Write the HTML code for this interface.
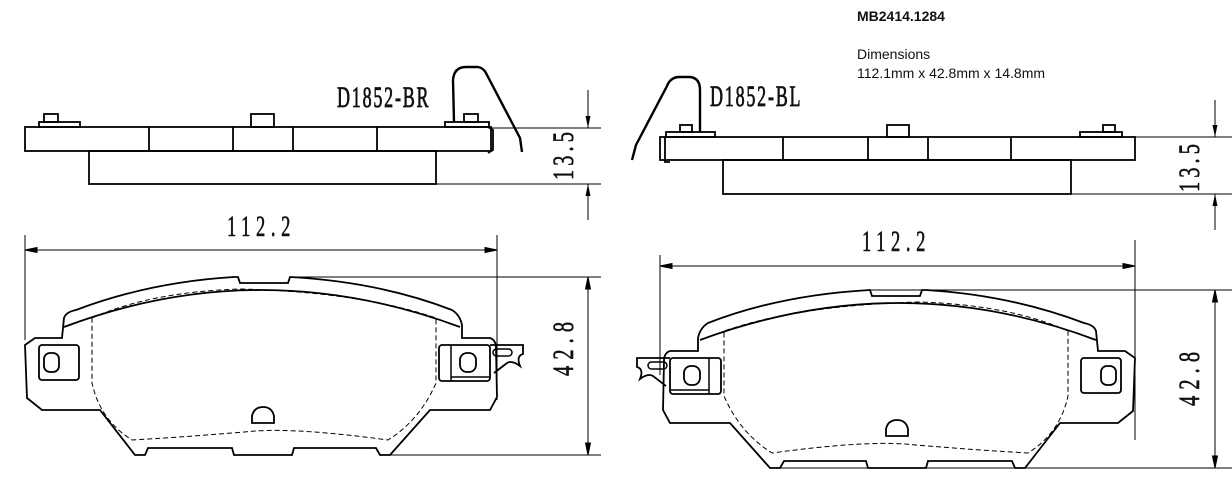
<!DOCTYPE html>
<html><head><meta charset="utf-8"><style>
html,body{margin:0;padding:0;background:#fff;}
svg{display:block;}
.t{font-family:"Liberation Sans",sans-serif;font-size:14px;fill:#111;}
.d{font-family:"Liberation Serif",serif;font-size:30px;fill:#111;stroke:#111;stroke-width:0.6;}
.l{font-family:"Liberation Serif",serif;font-size:30px;fill:#111;stroke:#111;stroke-width:0.8;}
</style></head><body>
<svg width="1232" height="481" viewBox="0 0 1232 481" xmlns="http://www.w3.org/2000/svg">
<defs>
<marker id="a" viewBox="0 0 12 6" refX="12" refY="3" markerWidth="12" markerHeight="6" markerUnits="userSpaceOnUse" orient="auto"><path d="M0,0.5 L12,3 L0,5.5 Z" fill="#000"/></marker>
<g id="pad" fill="none" stroke="#000">
<path stroke-width="1.8" d="M25,345 L35,338 L62,338 L64,318 Q66,312 76,310 Q150,282 234,277 L238,277 L240,283 L288,283 L290,277 Q380,282 452,310 Q460,315 462,325 L462,338 L490,338 Q496,340 496,348 L497,397 L490,410 L430,410 L390,455 L380,455 L376,448 L294,448 L292,455 L234,455 L232,448 L148,448 L145,455 L135,455 L100,410 L42,410 L27,398 Z"/>
<path stroke-width="1.8" d="M64,327 Q260,253 460,327"/>
<path stroke-width="1" stroke-dasharray="5,3" d="M92,318 Q150,292 240,289 Q360,292 436,318 L436,383 Q420,420 388,440 Q300,428 255,431 Q200,436 132,440 Q100,420 92,383 Z"/>
<rect x="39" y="345" width="40" height="35" rx="3" stroke-width="1.8"/>
<rect x="44" y="353" width="15" height="19" rx="6" stroke-width="1.8"/>
<rect x="439" y="345" width="51" height="36" rx="3" stroke-width="1.8"/>
<line x1="451" y1="345" x2="451" y2="381" stroke-width="1.5"/>
<rect x="460" y="353" width="16" height="19" rx="7" stroke-width="1.8"/>
<path stroke-width="1.8" d="M490,345 L523,345 L523,354 Q516,356 520,366 Q512,360 507,363 L494,373"/>
<line x1="451" y1="377" x2="490" y2="377" stroke-width="1.5"/>
<rect x="493" y="349" width="19" height="7" rx="3.5" stroke-width="1.5"/>
<path stroke-width="1.8" d="M252,423 L252,416 Q254,407 263,407 Q272,407 274,416 L274,423 Z"/>
</g>
</defs>

<text x="857" y="21" class="t" font-weight="600">MB2414.1284</text>
<text x="857" y="59" class="t">Dimensions</text>
<text x="857" y="78" class="t">112.1mm x 42.8mm x 14.8mm</text>

<!-- LEFT SIDE VIEW -->
<g fill="none" stroke="#000" stroke-width="1.8">
<rect x="25" y="127" width="466" height="24"/>
<line x1="149" y1="127" x2="149" y2="151"/><line x1="233" y1="127" x2="233" y2="151"/>
<line x1="293" y1="127" x2="293" y2="151"/><line x1="377" y1="127" x2="377" y2="151"/>
<rect x="89" y="151" width="347" height="33"/>
<rect x="39" y="122" width="41" height="5"/><rect x="44" y="114" width="14" height="8"/>
<rect x="251" y="114" width="23" height="13"/>
<rect x="445" y="122" width="44" height="5"/><rect x="464" y="114" width="14" height="8"/>
<path d="M488,127 L493,130 L493,150 L488,153"/>
<path d="M454,122 L453,80 Q454,67 466,67 L478,67 Q484,68 487,75 L520,138 L522,152" stroke-width="2.4"/>
</g>
<text class="l" transform="translate(337,107) scale(0.6,1)" style="letter-spacing:3px">D1852-BR</text>
<g stroke="#000" stroke-width="1" fill="none">
<line x1="491" y1="128" x2="601" y2="128"/><line x1="436" y1="184" x2="601" y2="184"/>
<line x1="588" y1="90" x2="588" y2="128" marker-end="url(#a)"/>
<line x1="588" y1="220" x2="588" y2="184" marker-end="url(#a)"/>
</g>
<text class="d" transform="translate(573,180) rotate(-90) scale(0.68,1)" style="letter-spacing:6px">13.5</text>

<!-- LEFT PLAN VIEW -->
<use href="#pad"/>
<g stroke="#000" stroke-width="1" fill="none">
<line x1="25" y1="235" x2="25" y2="340"/><line x1="497" y1="235" x2="497" y2="400"/>
<line x1="25" y1="250" x2="497" y2="250"/>
<path d="M25,250 l12,-2.5 v5 Z M497,250 l-12,-2.5 v5 Z" fill="#000"/>
<line x1="290" y1="277" x2="601" y2="277"/><line x1="390" y1="455" x2="601" y2="455"/>
<line x1="588" y1="277" x2="588" y2="455"/>
<path d="M588,277 l-2.5,12 h5 Z M588,455 l-2.5,-12 h5 Z" fill="#000"/>
</g>
<text class="d" transform="translate(227,236) scale(0.62,1)" style="letter-spacing:9px">112.2</text>
<text class="d" transform="translate(573,376) rotate(-90) scale(0.68,1)" style="letter-spacing:9px">42.8</text>

<!-- RIGHT SIDE VIEW -->
<g fill="none" stroke="#000" stroke-width="1.8">
<rect x="660" y="137" width="475" height="23"/>
<line x1="783" y1="137" x2="783" y2="160"/><line x1="868" y1="137" x2="868" y2="160"/>
<line x1="928" y1="137" x2="928" y2="160"/><line x1="1011" y1="137" x2="1011" y2="160"/>
<rect x="723" y="160" width="348" height="34"/>
<rect x="666" y="132" width="49" height="5"/><rect x="680" y="125" width="12" height="7"/>
<rect x="887" y="125" width="22" height="12"/>
<rect x="1080" y="132" width="42" height="5"/><rect x="1103" y="125" width="12" height="7"/>
<path d="M665,137 L665,162 L670,162"/>
<path d="M700,132 L700,90 Q700,78 690,77 L678,77 Q670,78 667,86 L636,145 L632,160" stroke-width="2.4"/>
</g>
<text class="l" transform="translate(710,106) scale(0.6,1)" style="letter-spacing:3px">D1852-BL</text>
<g stroke="#000" stroke-width="1" fill="none">
<line x1="1135" y1="137" x2="1232" y2="137"/><line x1="1071" y1="194" x2="1232" y2="194"/>
<line x1="1215" y1="100" x2="1215" y2="137" marker-end="url(#a)"/>
<line x1="1215" y1="230" x2="1215" y2="194" marker-end="url(#a)"/>
</g>
<text class="d" transform="translate(1199,192) rotate(-90) scale(0.68,1)" style="letter-spacing:6px">13.5</text>

<!-- RIGHT PLAN VIEW -->
<g transform="translate(1160,13) scale(-1,1)"><use href="#pad"/></g>
<g stroke="#000" stroke-width="1" fill="none">
<line x1="660" y1="255" x2="660" y2="375"/><line x1="1135" y1="240" x2="1135" y2="440"/>
<line x1="660" y1="266" x2="1135" y2="266"/>
<path d="M660,266 l12,-2.5 v5 Z M1135,266 l-12,-2.5 v5 Z" fill="#000"/>
<line x1="870" y1="290" x2="1232" y2="290"/><line x1="770" y1="468" x2="1232" y2="468"/>
<line x1="1215" y1="290" x2="1215" y2="468"/>
<path d="M1215,290 l-2.5,12 h5 Z M1215,468 l-2.5,-12 h5 Z" fill="#000"/>
</g>
<text class="d" transform="translate(862,251) scale(0.62,1)" style="letter-spacing:9px">112.2</text>
<text class="d" transform="translate(1199,406) rotate(-90) scale(0.68,1)" style="letter-spacing:9px">42.8</text>
</svg>
</body></html>
